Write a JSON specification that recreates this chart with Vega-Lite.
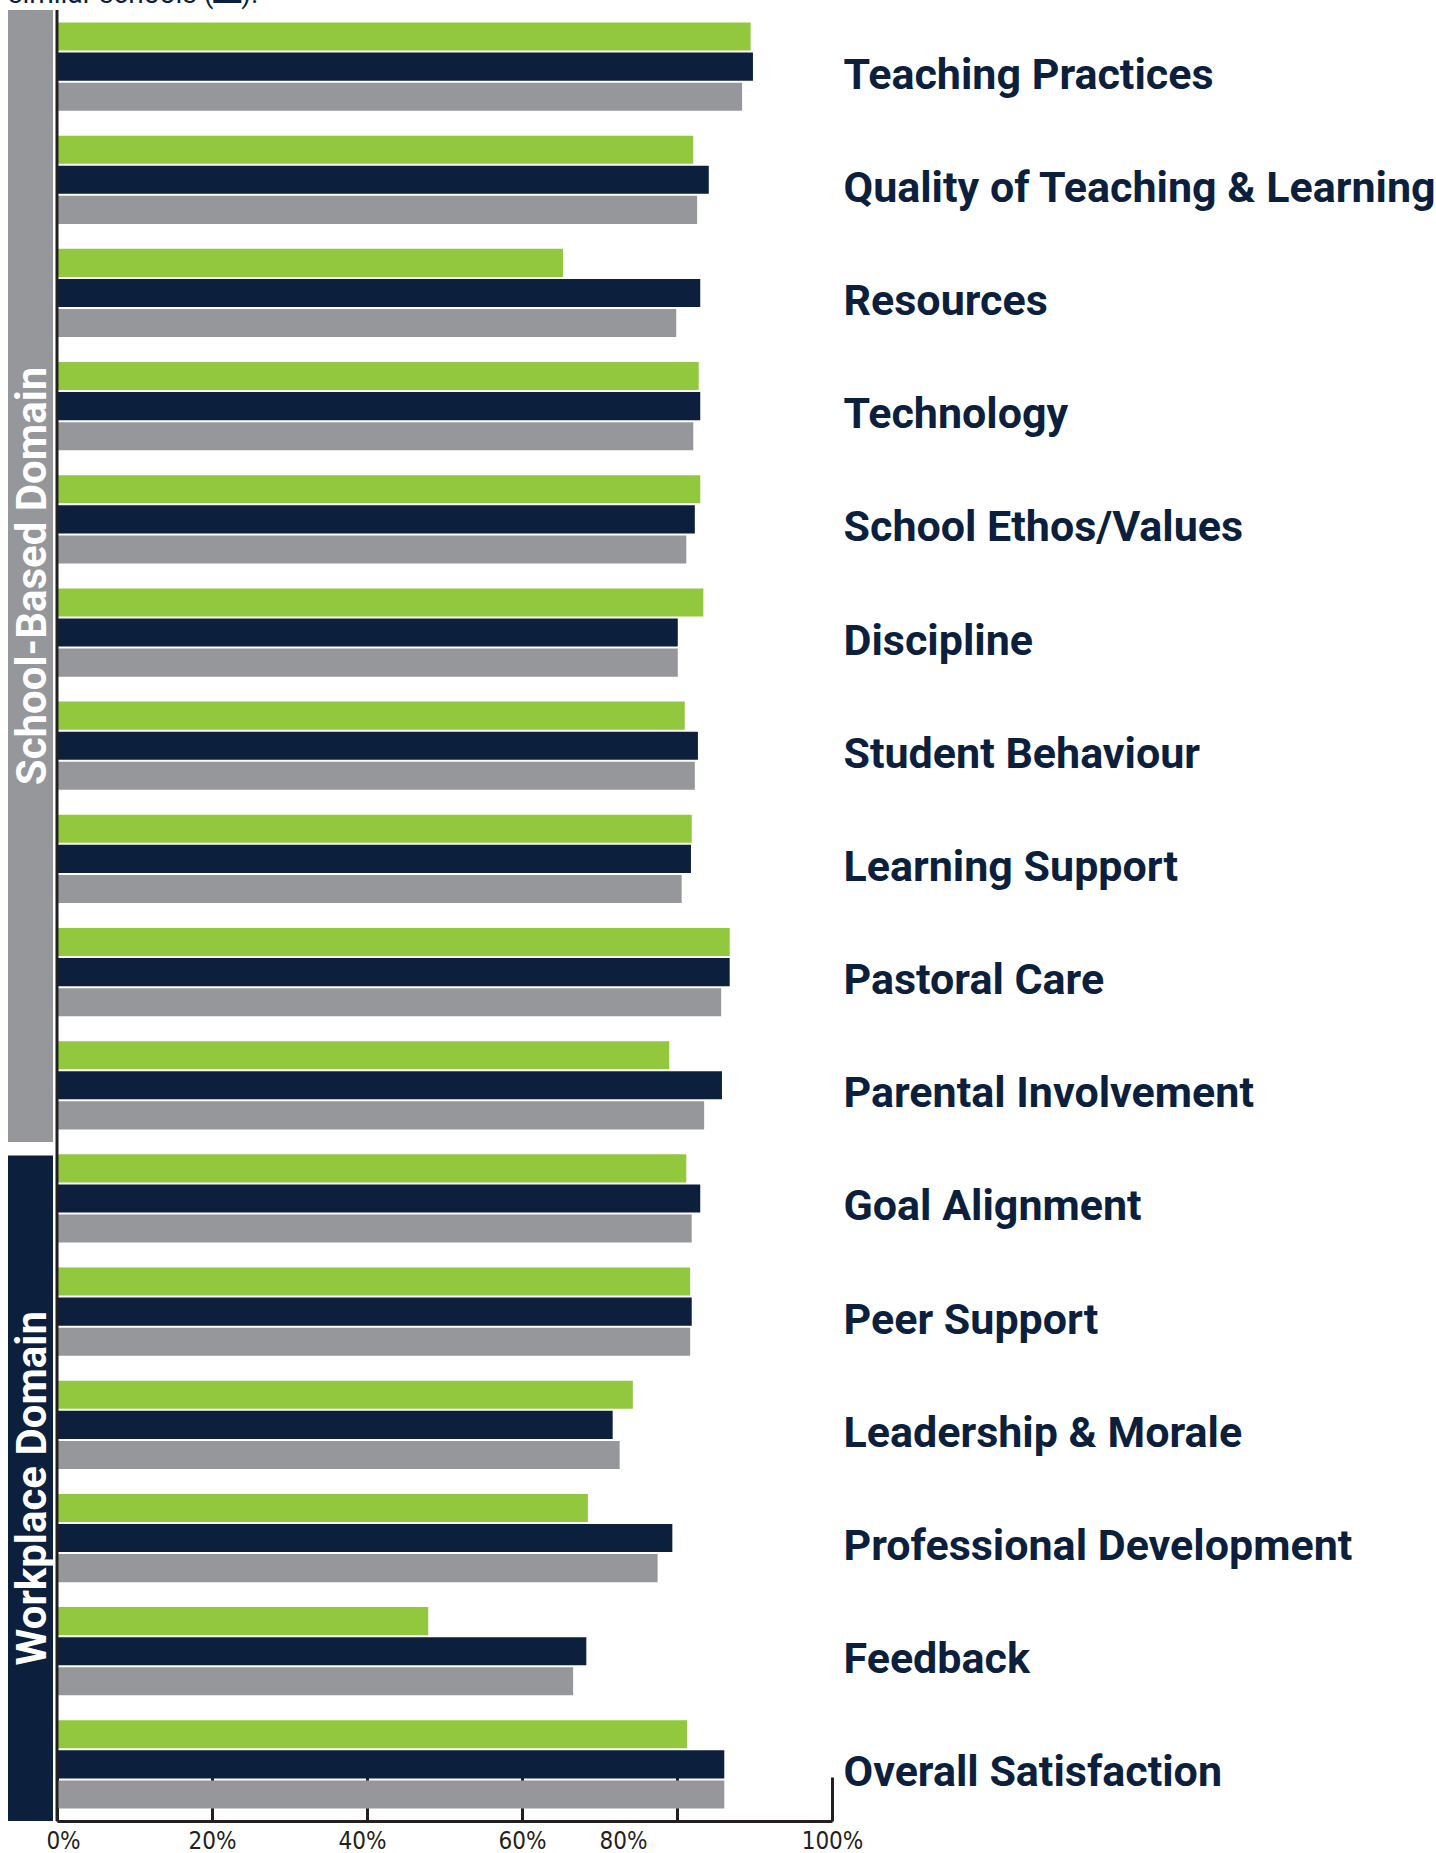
{
  "$schema": "https://vega.github.io/schema/vega-lite/v6.json",
  "background": "white",
  "padding": {"left": 8, "top": -20, "right": 0, "bottom": 0},
  "spacing": 4,
  "bounds": "flush",
  "title": {
    "text": "similar schools (▬).",
    "anchor": "start",
    "frame": "group",
    "font": "Roboto",
    "fontSize": 28,
    "fontWeight": "normal",
    "color": "#0c1f3d",
    "baseline": "alphabetic",
    "offset": -22
  },
  "config": {"view": {"stroke": null}},
  "resolve": {"scale": {"color": "independent"}},
  "datasets": {
    "domains": [
      {"domain": "School-Based Domain", "start": 0, "end": 10, "mid": 5},
      {"domain": "Workplace Domain", "start": 10.12, "end": 16, "mid": 13.06}
    ],
    "scores": [
      {"item": "Teaching Practices", "series": "This School", "value": 89.5},
      {"item": "Teaching Practices", "series": "All Schools", "value": 89.8},
      {"item": "Teaching Practices", "series": "Similar Schools", "value": 88.4},
      {"item": "Quality of Teaching & Learning", "series": "This School", "value": 82.1},
      {"item": "Quality of Teaching & Learning", "series": "All Schools", "value": 84.1},
      {"item": "Quality of Teaching & Learning", "series": "Similar Schools", "value": 82.6},
      {"item": "Resources", "series": "This School", "value": 65.3},
      {"item": "Resources", "series": "All Schools", "value": 83.0},
      {"item": "Resources", "series": "Similar Schools", "value": 79.9},
      {"item": "Technology", "series": "This School", "value": 82.8},
      {"item": "Technology", "series": "All Schools", "value": 83.0},
      {"item": "Technology", "series": "Similar Schools", "value": 82.1},
      {"item": "School Ethos/Values", "series": "This School", "value": 83.0},
      {"item": "School Ethos/Values", "series": "All Schools", "value": 82.3},
      {"item": "School Ethos/Values", "series": "Similar Schools", "value": 81.2},
      {"item": "Discipline", "series": "This School", "value": 83.4},
      {"item": "Discipline", "series": "All Schools", "value": 80.1},
      {"item": "Discipline", "series": "Similar Schools", "value": 80.1},
      {"item": "Student Behaviour", "series": "This School", "value": 81.0},
      {"item": "Student Behaviour", "series": "All Schools", "value": 82.7},
      {"item": "Student Behaviour", "series": "Similar Schools", "value": 82.3},
      {"item": "Learning Support", "series": "This School", "value": 81.9},
      {"item": "Learning Support", "series": "All Schools", "value": 81.8},
      {"item": "Learning Support", "series": "Similar Schools", "value": 80.6},
      {"item": "Pastoral Care", "series": "This School", "value": 86.8},
      {"item": "Pastoral Care", "series": "All Schools", "value": 86.8},
      {"item": "Pastoral Care", "series": "Similar Schools", "value": 85.7},
      {"item": "Parental Involvement", "series": "This School", "value": 79.0},
      {"item": "Parental Involvement", "series": "All Schools", "value": 85.8},
      {"item": "Parental Involvement", "series": "Similar Schools", "value": 83.5},
      {"item": "Goal Alignment", "series": "This School", "value": 81.2},
      {"item": "Goal Alignment", "series": "All Schools", "value": 83.0},
      {"item": "Goal Alignment", "series": "Similar Schools", "value": 81.9},
      {"item": "Peer Support", "series": "This School", "value": 81.7},
      {"item": "Peer Support", "series": "All Schools", "value": 81.9},
      {"item": "Peer Support", "series": "Similar Schools", "value": 81.7},
      {"item": "Leadership & Morale", "series": "This School", "value": 74.3},
      {"item": "Leadership & Morale", "series": "All Schools", "value": 71.7},
      {"item": "Leadership & Morale", "series": "Similar Schools", "value": 72.6},
      {"item": "Professional Development", "series": "This School", "value": 68.5},
      {"item": "Professional Development", "series": "All Schools", "value": 79.4},
      {"item": "Professional Development", "series": "Similar Schools", "value": 77.5},
      {"item": "Feedback", "series": "This School", "value": 47.9},
      {"item": "Feedback", "series": "All Schools", "value": 68.3},
      {"item": "Feedback", "series": "Similar Schools", "value": 66.6},
      {"item": "Overall Satisfaction", "series": "This School", "value": 81.3},
      {"item": "Overall Satisfaction", "series": "All Schools", "value": 86.1},
      {"item": "Overall Satisfaction", "series": "Similar Schools", "value": 86.1}
    ]
  },
  "hconcat": [
    {
      "width": 45,
      "height": 1811,
      "data": {"name": "domains"},
      "layer": [
        {
          "mark": {"type": "rect"},
          "encoding": {
            "y": {"field": "start", "type": "quantitative", "scale": {"domain": [0, 16], "reverse": true, "nice": false, "zero": false}, "axis": null},
            "y2": {"field": "end"},
            "color": {"field": "domain", "type": "nominal", "scale": {"domain": ["School-Based Domain", "Workplace Domain"], "range": ["#96979a", "#0c1f3d"]}, "legend": null}
          }
        },
        {
          "mark": {"type": "text", "angle": 270, "align": "center", "baseline": "middle", "font": "Roboto", "fontWeight": "bold", "fontSize": 42, "color": "white", "dy": 2},
          "encoding": {
            "y": {"field": "mid", "type": "quantitative", "scale": {"domain": [0, 16], "reverse": true, "nice": false, "zero": false}, "axis": null},
            "text": {"field": "domain", "type": "nominal"}
          }
        }
      ]
    },
    {
      "width": 775,
      "height": 1811,
      "layer": [
        {
          "data": {"name": "scores"},
          "mark": {"type": "bar"},
          "encoding": {
            "y": {
              "field": "item", "type": "nominal", "sort": null,
              "scale": {"paddingInner": 0.22, "paddingOuter": 0.11},
              "axis": {
                "orient": "right", "title": null, "domain": false, "ticks": false,
                "labelFont": "Roboto", "labelFontWeight": "bold", "labelFontSize": 43,
                "labelColor": "#0c1f3d", "labelPadding": 11, "labelOffset": 9, "labelLimit": 0
              }
            },
            "yOffset": {
              "field": "series", "type": "nominal", "sort": ["This School", "All Schools", "Similar Schools"],
              "scale": {"paddingInner": 0.0667, "paddingOuter": 0}
            },
            "x": {
              "field": "value", "type": "quantitative",
              "scale": {"domain": [0, 100], "nice": false},
              "axis": {
                "title": null, "grid": false, "values": [0, 20, 40, 60, 80, 100],
                "labelExpr": "datum.value + '%'",
                "labelFlush": false,
                "domainColor": "#231f20", "domainWidth": 3,
                "tickColor": "#231f20", "tickWidth": 3, "tickSize": -44,
                "labelFont": "'Liberation Sans Narrow', 'DejaVu Sans Condensed', 'Roboto Condensed', Roboto, sans-serif",
                "labelFontSize": 24, "labelColor": "#231f20",
                "labelPadding": 52,
                "labelOffset": {
                  "condition": [
                    {"test": "datum.value === 0", "value": 6},
                    {"test": "datum.value === 40", "value": -5},
                    {"test": "datum.value === 80", "value": -54}
                  ],
                  "value": 0
                }
              }
            },
            "color": {
              "field": "series", "type": "nominal",
              "scale": {"domain": ["This School", "All Schools", "Similar Schools"], "range": ["#92c83e", "#0c1f3d", "#96979a"]},
              "legend": null
            }
          }
        },
        {
          "data": {"values": [{"at": 0}]},
          "mark": {"type": "rule", "color": "#231f20", "strokeWidth": 3},
          "encoding": {"x": {"field": "at", "type": "quantitative"}}
        }
      ]
    }
  ]
}
